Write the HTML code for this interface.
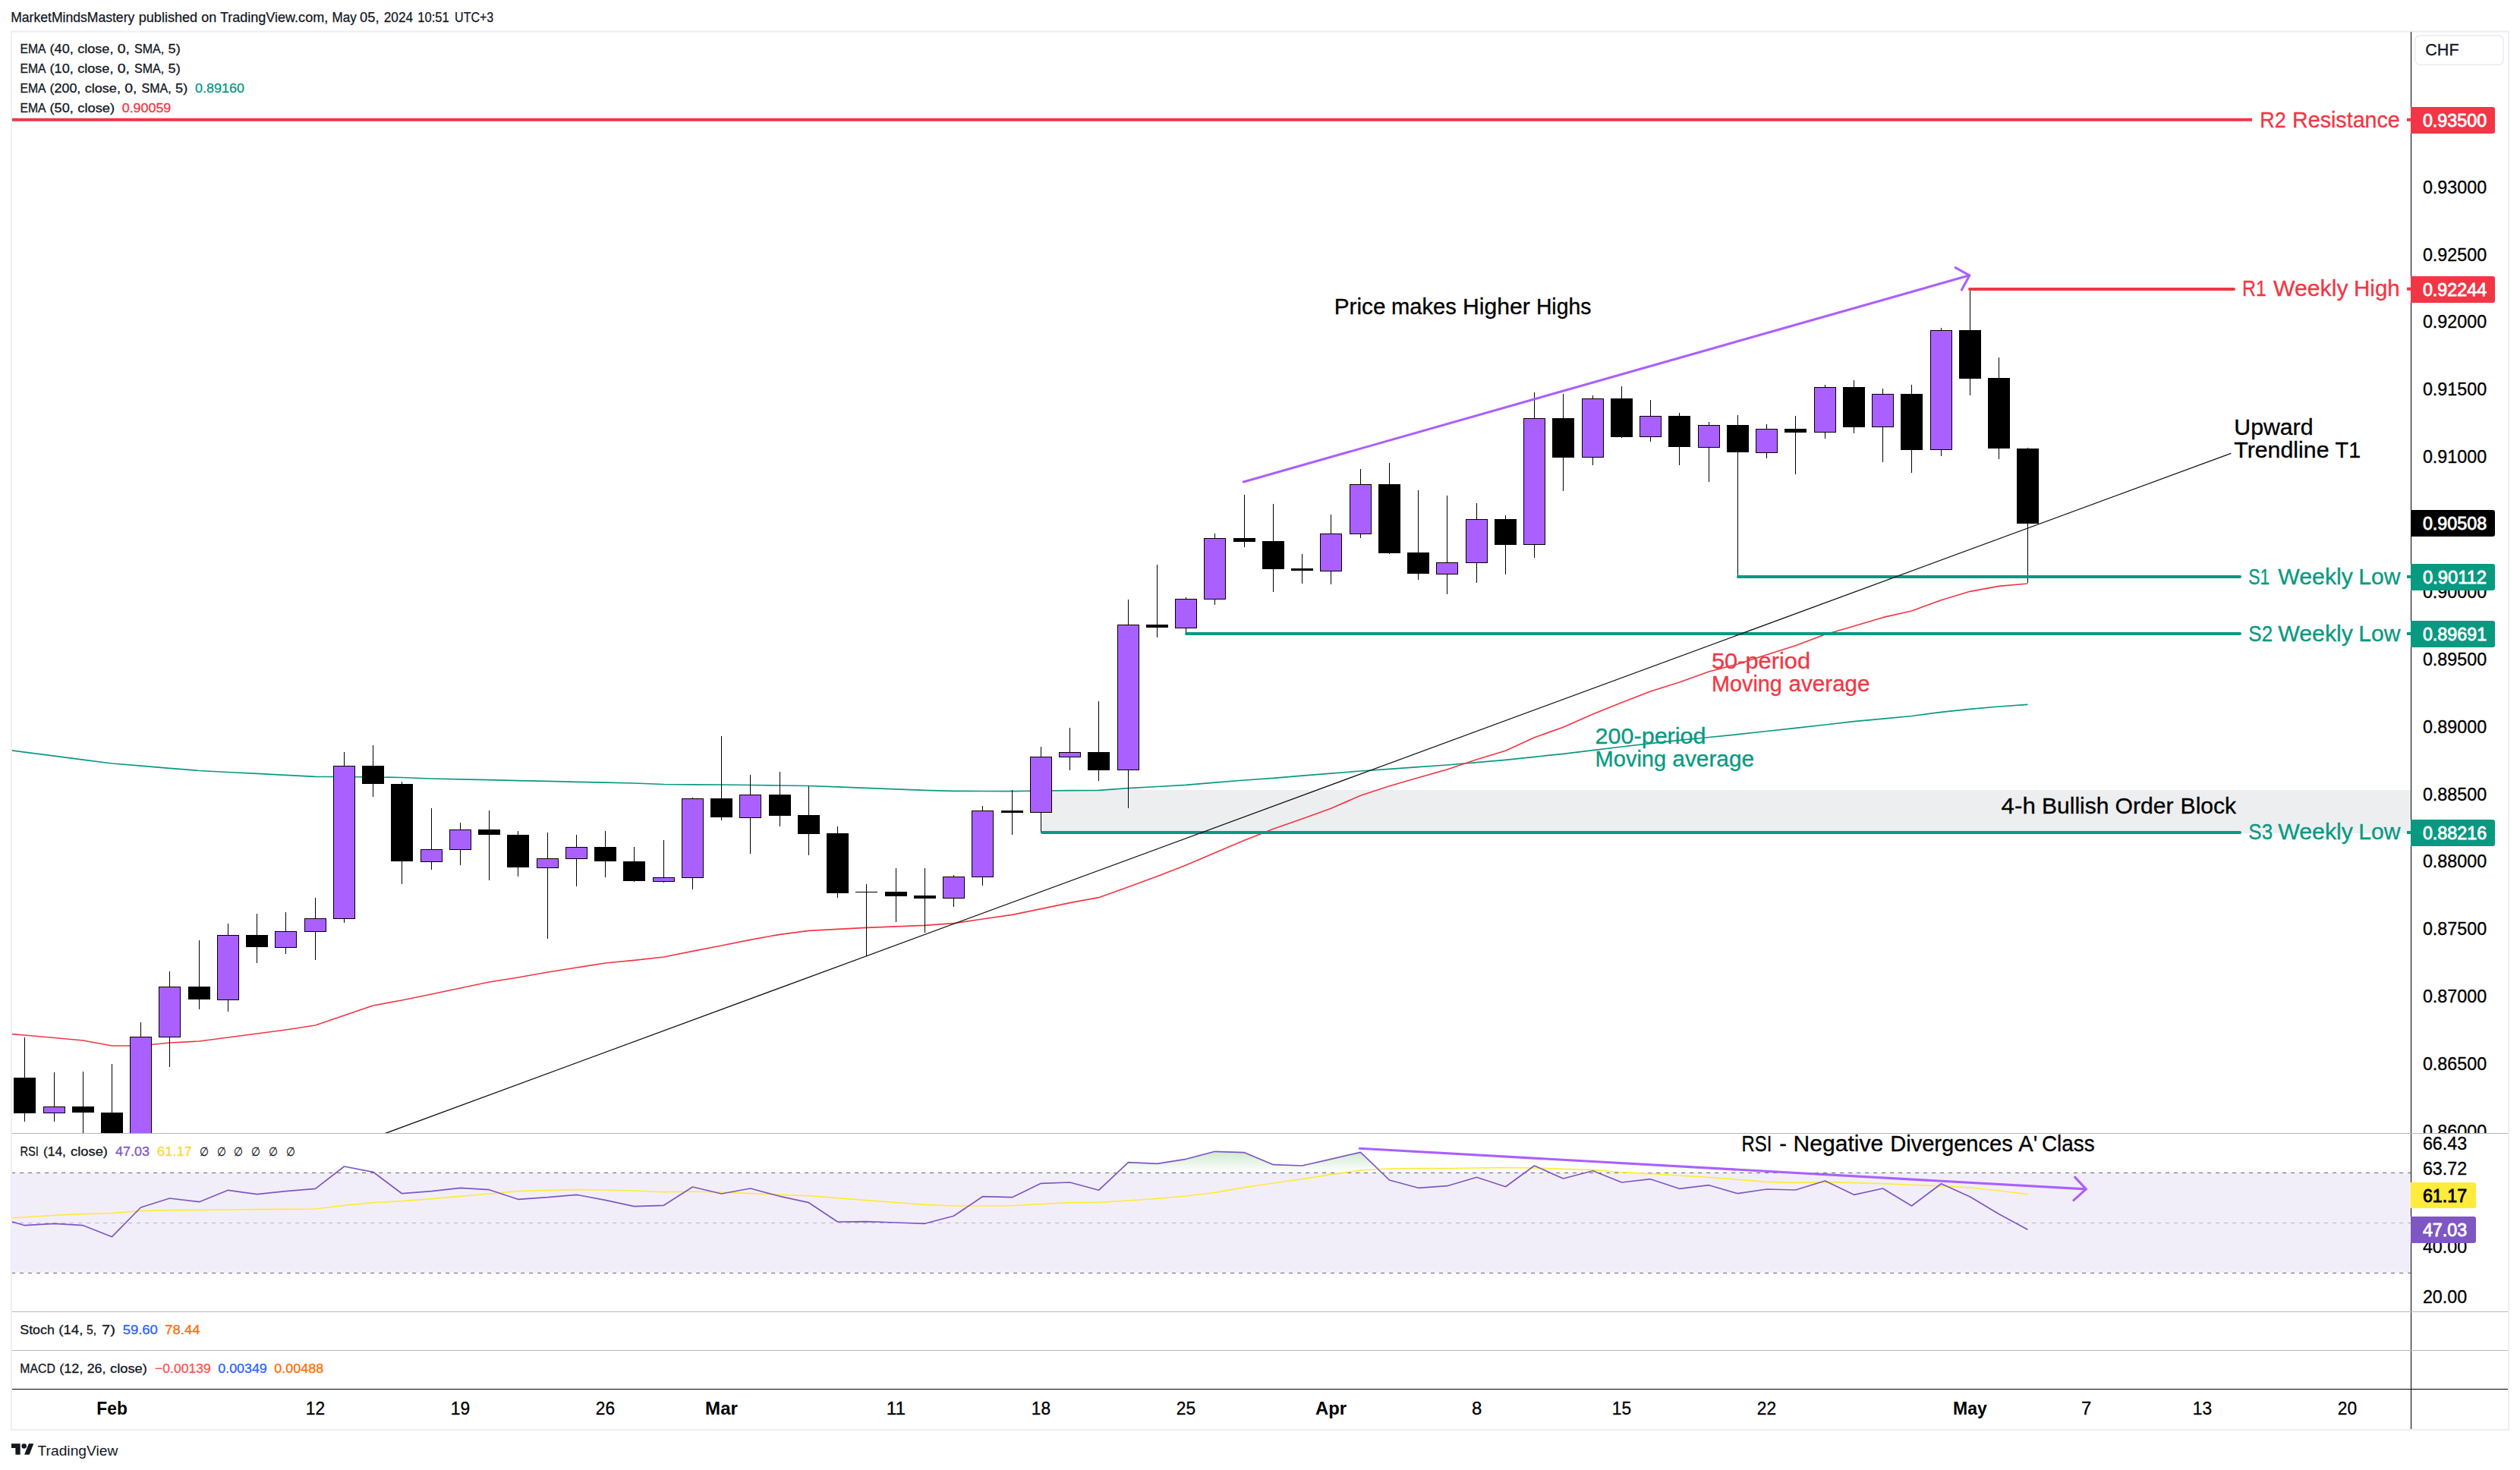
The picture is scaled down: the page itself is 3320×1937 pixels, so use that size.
<!DOCTYPE html>
<html lang="en"><head><meta charset="utf-8"><title>USDCHF chart</title>
<style>html,body{margin:0;padding:0;background:#fff}body{width:3320px;height:1937px;overflow:hidden}</style>
</head><body>
<svg width="3320" height="1937" viewBox="0 0 3320 1937" font-family='"Liberation Sans", sans-serif' style="display:block">
<defs>
<clipPath id="p1"><rect x="16" y="42" width="3160" height="1451.3"/></clipPath>
<clipPath id="p1a"><rect x="3176" y="42" width="128" height="1451.3"/></clipPath>
<clipPath id="p2"><rect x="16" y="1493.3" width="3160" height="234.7"/></clipPath>
<clipPath id="ob"><rect x="16" y="42" width="3160" height="1503.3"/></clipPath>
<linearGradient id="gg" gradientUnits="userSpaceOnUse" x1="0" y1="1493" x2="0" y2="1545"><stop offset="0" stop-color="#4caf50" stop-opacity="0.5"/><stop offset="1" stop-color="#4caf50" stop-opacity="0"/></linearGradient>
</defs>
<rect width="3320" height="1937" fill="#fff"/>
<text x="14.2" y="29.0" font-size="17.8" fill="#131722" stroke="#131722" stroke-width="0.25" textLength="163.1" lengthAdjust="spacingAndGlyphs">MarketMindsMastery</text>
<text x="182.7" y="29.0" font-size="17.8" fill="#131722" stroke="#131722" stroke-width="0.25" textLength="77.5" lengthAdjust="spacingAndGlyphs">published</text>
<text x="265.2" y="29.0" font-size="17.8" fill="#131722" stroke="#131722" stroke-width="0.25" textLength="20.0" lengthAdjust="spacingAndGlyphs">on</text>
<text x="289.9" y="29.0" font-size="17.8" fill="#131722" stroke="#131722" stroke-width="0.25" textLength="142.3" lengthAdjust="spacingAndGlyphs">TradingView.com,</text>
<text x="437.5" y="29.0" font-size="17.8" fill="#131722" stroke="#131722" stroke-width="0.25" textLength="32.2" lengthAdjust="spacingAndGlyphs">May</text>
<text x="474.1" y="29.0" font-size="17.8" fill="#131722" stroke="#131722" stroke-width="0.25" textLength="25.4" lengthAdjust="spacingAndGlyphs">05,</text>
<text x="505.7" y="29.0" font-size="17.8" fill="#131722" stroke="#131722" stroke-width="0.25" textLength="38.4" lengthAdjust="spacingAndGlyphs">2024</text>
<text x="550.3" y="29.0" font-size="17.8" fill="#131722" stroke="#131722" stroke-width="0.25" textLength="41.4" lengthAdjust="spacingAndGlyphs">10:51</text>
<text x="599.1" y="29.0" font-size="17.8" fill="#131722" stroke="#131722" stroke-width="0.25" textLength="51.2" lengthAdjust="spacingAndGlyphs">UTC+3</text>
<rect x="15" y="41.5" width="3290" height="1842.5" fill="none" stroke="#edeef3" stroke-width="2"/>
<g clip-path="url(#p1)">
<rect x="1371" y="1041" width="1805" height="57" fill="#edeef0"/>
<polyline points="-5.8,986.0 32.5,991.2 71.5,996.1 109.5,1001.1 147.5,1006.0 185.5,1009.2 223.5,1012.3 262.5,1015.5 300.5,1017.5 338.5,1019.4 376.5,1021.3 415.5,1023.3 453.5,1023.5 491.5,1024.0 529.5,1024.5 568.5,1026.0 606.5,1026.9 644.5,1027.7 682.5,1028.6 721.5,1029.4 759.5,1030.3 797.5,1031.1 835.5,1032.0 874.5,1033.5 912.5,1033.8 950.5,1034.0 988.5,1034.5 1027.5,1035.0 1065.5,1035.5 1103.5,1036.9 1141.5,1038.3 1180.5,1039.8 1218.5,1041.3 1256.5,1042.3 1294.5,1042.5 1333.5,1042.7 1371.5,1042.0 1409.5,1041.7 1447.5,1041.3 1486.5,1038.7 1524.5,1036.5 1562.5,1034.3 1600.5,1031.2 1639.5,1028.0 1677.5,1025.3 1715.5,1022.2 1753.5,1019.1 1792.5,1016.0 1830.5,1013.3 1868.5,1010.7 1906.5,1008.0 1945.5,1004.6 1983.5,1001.3 2021.5,997.3 2059.5,993.3 2098.5,988.6 2136.5,984.0 2174.5,979.6 2212.5,975.3 2251.5,971.5 2289.5,967.7 2327.5,963.5 2365.5,959.3 2404.5,955.0 2442.5,950.7 2480.5,947.1 2518.5,943.5 2557.5,938.3 2595.5,934.3 2633.5,931.0 2671.5,928.3" fill="none" stroke="#089981" stroke-width="1.7" stroke-linejoin="round"/>
<polyline points="-5.8,1361.0 32.5,1364.0 71.5,1367.5 109.5,1371.0 147.5,1378.0 185.5,1378.0 223.5,1374.0 262.5,1372.0 300.5,1367.0 338.5,1362.0 376.5,1357.0 415.5,1351.0 453.5,1338.0 491.5,1325.0 529.5,1318.0 568.5,1310.0 606.5,1302.0 644.5,1294.0 682.5,1288.0 721.5,1281.0 759.5,1275.0 797.5,1269.0 835.5,1265.3 874.5,1261.0 912.5,1253.3 950.5,1246.0 988.5,1238.3 1027.5,1231.3 1065.5,1226.3 1103.5,1224.3 1141.5,1222.3 1180.5,1220.8 1218.5,1219.3 1256.5,1216.7 1294.5,1211.0 1333.5,1205.3 1371.5,1197.7 1409.5,1189.7 1447.5,1182.7 1486.5,1168.7 1524.5,1154.7 1562.5,1140.0 1600.5,1123.7 1639.5,1107.3 1677.5,1092.3 1715.5,1079.0 1753.5,1065.3 1792.5,1048.3 1830.5,1035.7 1868.5,1024.7 1906.5,1014.0 1945.5,1000.7 1983.5,989.3 2021.5,971.7 2059.5,958.3 2098.5,941.0 2136.5,925.7 2174.5,911.0 2212.5,899.0 2251.5,885.0 2289.5,875.0 2327.5,862.7 2365.5,850.7 2404.5,836.0 2442.5,825.0 2480.5,813.7 2518.5,805.0 2557.5,790.7 2595.5,779.3 2633.5,772.3 2671.5,769.0" fill="none" stroke="#f23645" stroke-width="1.7" stroke-linejoin="round"/>
<rect x="32" y="1367" width="1" height="111" fill="#000"/>
<rect x="18.5" y="1420.5" width="28" height="46.0" fill="#000" stroke="#000" stroke-width="1"/>
<rect x="71" y="1413" width="1" height="65" fill="#000"/>
<rect x="57.5" y="1458.5" width="28" height="8.0" fill="#aa60ff" stroke="#000" stroke-width="1"/>
<rect x="109" y="1412" width="1" height="98" fill="#000"/>
<rect x="95.5" y="1458.5" width="28" height="7.0" fill="#000" stroke="#000" stroke-width="1"/>
<rect x="147" y="1402" width="1" height="108" fill="#000"/>
<rect x="133.5" y="1466.5" width="28" height="43.0" fill="#000" stroke="#000" stroke-width="1"/>
<rect x="185" y="1347" width="1" height="163" fill="#000"/>
<rect x="171.5" y="1366.5" width="28" height="144.0" fill="#aa60ff" stroke="#000" stroke-width="1"/>
<rect x="223" y="1280" width="1" height="126" fill="#000"/>
<rect x="209.5" y="1300.5" width="28" height="66.0" fill="#aa60ff" stroke="#000" stroke-width="1"/>
<rect x="262" y="1239" width="1" height="91" fill="#000"/>
<rect x="248.5" y="1300.5" width="28" height="16.0" fill="#000" stroke="#000" stroke-width="1"/>
<rect x="300" y="1217" width="1" height="116" fill="#000"/>
<rect x="286.5" y="1232.5" width="28" height="85.0" fill="#aa60ff" stroke="#000" stroke-width="1"/>
<rect x="338" y="1204" width="1" height="65" fill="#000"/>
<rect x="324.5" y="1232.5" width="28" height="15.0" fill="#000" stroke="#000" stroke-width="1"/>
<rect x="376" y="1202" width="1" height="55" fill="#000"/>
<rect x="362.5" y="1227.5" width="28" height="21.0" fill="#aa60ff" stroke="#000" stroke-width="1"/>
<rect x="415" y="1183" width="1" height="82" fill="#000"/>
<rect x="401.5" y="1210.5" width="28" height="17.0" fill="#aa60ff" stroke="#000" stroke-width="1"/>
<rect x="453" y="991" width="1" height="225" fill="#000"/>
<rect x="439.5" y="1009.5" width="28" height="201.0" fill="#aa60ff" stroke="#000" stroke-width="1"/>
<rect x="491" y="982" width="1" height="68" fill="#000"/>
<rect x="477.5" y="1009.5" width="28" height="23.0" fill="#000" stroke="#000" stroke-width="1"/>
<rect x="529" y="1030" width="1" height="135" fill="#000"/>
<rect x="515.5" y="1033.5" width="28" height="101.0" fill="#000" stroke="#000" stroke-width="1"/>
<rect x="568" y="1065" width="1" height="81" fill="#000"/>
<rect x="554.5" y="1119.5" width="28" height="16.0" fill="#aa60ff" stroke="#000" stroke-width="1"/>
<rect x="606" y="1084" width="1" height="56" fill="#000"/>
<rect x="592.5" y="1093.5" width="28" height="26.0" fill="#aa60ff" stroke="#000" stroke-width="1"/>
<rect x="644" y="1068" width="1" height="92" fill="#000"/>
<rect x="630.5" y="1093.5" width="28" height="6.0" fill="#000" stroke="#000" stroke-width="1"/>
<rect x="682" y="1095" width="1" height="60" fill="#000"/>
<rect x="668.5" y="1100.5" width="28" height="42.0" fill="#000" stroke="#000" stroke-width="1"/>
<rect x="721" y="1097" width="1" height="140" fill="#000"/>
<rect x="707.5" y="1131.5" width="28" height="12.0" fill="#aa60ff" stroke="#000" stroke-width="1"/>
<rect x="759" y="1100" width="1" height="68" fill="#000"/>
<rect x="745.5" y="1116.5" width="28" height="15.0" fill="#aa60ff" stroke="#000" stroke-width="1"/>
<rect x="797" y="1095" width="1" height="61" fill="#000"/>
<rect x="783.5" y="1116.5" width="28" height="18.0" fill="#000" stroke="#000" stroke-width="1"/>
<rect x="835" y="1116" width="1" height="46" fill="#000"/>
<rect x="821.5" y="1135.5" width="28" height="25.0" fill="#000" stroke="#000" stroke-width="1"/>
<rect x="874" y="1107" width="1" height="56" fill="#000"/>
<rect x="860.5" y="1156.5" width="28" height="5.0" fill="#aa60ff" stroke="#000" stroke-width="1"/>
<rect x="912" y="1051" width="1" height="121" fill="#000"/>
<rect x="898.5" y="1052.5" width="28" height="104.0" fill="#aa60ff" stroke="#000" stroke-width="1"/>
<rect x="950" y="970" width="1" height="111" fill="#000"/>
<rect x="936.5" y="1052.5" width="28" height="24.0" fill="#000" stroke="#000" stroke-width="1"/>
<rect x="988" y="1021" width="1" height="104" fill="#000"/>
<rect x="974.5" y="1047.5" width="28" height="30.0" fill="#aa60ff" stroke="#000" stroke-width="1"/>
<rect x="1027" y="1017" width="1" height="72" fill="#000"/>
<rect x="1013.5" y="1047.5" width="28" height="27.0" fill="#000" stroke="#000" stroke-width="1"/>
<rect x="1065" y="1036" width="1" height="91" fill="#000"/>
<rect x="1051.5" y="1074.5" width="28" height="24.0" fill="#000" stroke="#000" stroke-width="1"/>
<rect x="1103" y="1089" width="1" height="94" fill="#000"/>
<rect x="1089.5" y="1098.5" width="28" height="78.0" fill="#000" stroke="#000" stroke-width="1"/>
<rect x="1141" y="1165" width="1" height="95" fill="#000"/>
<rect x="1127" y="1175" width="29" height="1" fill="#000"/>
<rect x="1180" y="1144" width="1" height="71" fill="#000"/>
<rect x="1166.5" y="1175.5" width="28" height="5.0" fill="#000" stroke="#000" stroke-width="1"/>
<rect x="1218" y="1144" width="1" height="85" fill="#000"/>
<rect x="1204.5" y="1180.5" width="28" height="3.0" fill="#000" stroke="#000" stroke-width="1"/>
<rect x="1256" y="1153" width="1" height="42" fill="#000"/>
<rect x="1242.5" y="1155.5" width="28" height="28.0" fill="#aa60ff" stroke="#000" stroke-width="1"/>
<rect x="1294" y="1062" width="1" height="105" fill="#000"/>
<rect x="1280.5" y="1068.5" width="28" height="87.0" fill="#aa60ff" stroke="#000" stroke-width="1"/>
<rect x="1333" y="1041" width="1" height="59" fill="#000"/>
<rect x="1319.5" y="1068.5" width="28" height="2.0" fill="#000" stroke="#000" stroke-width="1"/>
<rect x="1371" y="984" width="1" height="113" fill="#000"/>
<rect x="1357.5" y="997.5" width="28" height="73.0" fill="#aa60ff" stroke="#000" stroke-width="1"/>
<rect x="1409" y="959" width="1" height="56" fill="#000"/>
<rect x="1395.5" y="991.5" width="28" height="6.0" fill="#aa60ff" stroke="#000" stroke-width="1"/>
<rect x="1447" y="924" width="1" height="105" fill="#000"/>
<rect x="1433.5" y="991.5" width="28" height="23.0" fill="#000" stroke="#000" stroke-width="1"/>
<rect x="1486" y="790" width="1" height="275" fill="#000"/>
<rect x="1472.5" y="823.5" width="28" height="191.0" fill="#aa60ff" stroke="#000" stroke-width="1"/>
<rect x="1524" y="744" width="1" height="96" fill="#000"/>
<rect x="1510.5" y="823.5" width="28" height="3.0" fill="#000" stroke="#000" stroke-width="1"/>
<rect x="1562" y="787" width="1" height="48" fill="#000"/>
<rect x="1548.5" y="789.5" width="28" height="38.0" fill="#aa60ff" stroke="#000" stroke-width="1"/>
<rect x="1600" y="703" width="1" height="94" fill="#000"/>
<rect x="1586.5" y="709.5" width="28" height="80.0" fill="#aa60ff" stroke="#000" stroke-width="1"/>
<rect x="1639" y="652" width="1" height="69" fill="#000"/>
<rect x="1625.5" y="709.5" width="28" height="4.0" fill="#000" stroke="#000" stroke-width="1"/>
<rect x="1677" y="664" width="1" height="116" fill="#000"/>
<rect x="1663.5" y="713.5" width="28" height="36.0" fill="#000" stroke="#000" stroke-width="1"/>
<rect x="1715" y="730" width="1" height="39" fill="#000"/>
<rect x="1701.5" y="749.5" width="28" height="2.0" fill="#000" stroke="#000" stroke-width="1"/>
<rect x="1753" y="678" width="1" height="92" fill="#000"/>
<rect x="1739.5" y="703.5" width="28" height="49.0" fill="#aa60ff" stroke="#000" stroke-width="1"/>
<rect x="1792" y="618" width="1" height="91" fill="#000"/>
<rect x="1778.5" y="638.5" width="28" height="65.0" fill="#aa60ff" stroke="#000" stroke-width="1"/>
<rect x="1830" y="610" width="1" height="120" fill="#000"/>
<rect x="1816.5" y="638.5" width="28" height="90.0" fill="#000" stroke="#000" stroke-width="1"/>
<rect x="1868" y="646" width="1" height="118" fill="#000"/>
<rect x="1854.5" y="728.5" width="28" height="27.0" fill="#000" stroke="#000" stroke-width="1"/>
<rect x="1906" y="653" width="1" height="130" fill="#000"/>
<rect x="1892.5" y="741.5" width="28" height="15.0" fill="#aa60ff" stroke="#000" stroke-width="1"/>
<rect x="1945" y="663" width="1" height="105" fill="#000"/>
<rect x="1931.5" y="684.5" width="28" height="57.0" fill="#aa60ff" stroke="#000" stroke-width="1"/>
<rect x="1983" y="679" width="1" height="78" fill="#000"/>
<rect x="1969.5" y="684.5" width="28" height="33.0" fill="#000" stroke="#000" stroke-width="1"/>
<rect x="2021" y="517" width="1" height="218" fill="#000"/>
<rect x="2007.5" y="551.5" width="28" height="166.0" fill="#aa60ff" stroke="#000" stroke-width="1"/>
<rect x="2059" y="519" width="1" height="128" fill="#000"/>
<rect x="2045.5" y="551.5" width="28" height="51.0" fill="#000" stroke="#000" stroke-width="1"/>
<rect x="2098" y="521" width="1" height="92" fill="#000"/>
<rect x="2084.5" y="525.5" width="28" height="77.0" fill="#aa60ff" stroke="#000" stroke-width="1"/>
<rect x="2136" y="509" width="1" height="68" fill="#000"/>
<rect x="2122.5" y="525.5" width="28" height="50.0" fill="#000" stroke="#000" stroke-width="1"/>
<rect x="2174" y="527" width="1" height="55" fill="#000"/>
<rect x="2160.5" y="548.5" width="28" height="27.0" fill="#aa60ff" stroke="#000" stroke-width="1"/>
<rect x="2212" y="544" width="1" height="69" fill="#000"/>
<rect x="2198.5" y="548.5" width="28" height="40.0" fill="#000" stroke="#000" stroke-width="1"/>
<rect x="2251" y="556" width="1" height="79" fill="#000"/>
<rect x="2237.5" y="560.5" width="28" height="29.0" fill="#aa60ff" stroke="#000" stroke-width="1"/>
<rect x="2289" y="547" width="1" height="213" fill="#000"/>
<rect x="2275.5" y="560.5" width="28" height="35.0" fill="#000" stroke="#000" stroke-width="1"/>
<rect x="2327" y="559" width="1" height="45" fill="#000"/>
<rect x="2313.5" y="565.5" width="28" height="31.0" fill="#aa60ff" stroke="#000" stroke-width="1"/>
<rect x="2365" y="548" width="1" height="77" fill="#000"/>
<rect x="2351.5" y="565.5" width="28" height="4.0" fill="#000" stroke="#000" stroke-width="1"/>
<rect x="2404" y="507" width="1" height="71" fill="#000"/>
<rect x="2390.5" y="510.5" width="28" height="59.0" fill="#aa60ff" stroke="#000" stroke-width="1"/>
<rect x="2442" y="501" width="1" height="70" fill="#000"/>
<rect x="2428.5" y="510.5" width="28" height="52.0" fill="#000" stroke="#000" stroke-width="1"/>
<rect x="2480" y="512" width="1" height="97" fill="#000"/>
<rect x="2466.5" y="519.5" width="28" height="43.0" fill="#aa60ff" stroke="#000" stroke-width="1"/>
<rect x="2518" y="507" width="1" height="116" fill="#000"/>
<rect x="2504.5" y="519.5" width="28" height="73.0" fill="#000" stroke="#000" stroke-width="1"/>
<rect x="2557" y="432" width="1" height="169" fill="#000"/>
<rect x="2543.5" y="435.5" width="28" height="157.0" fill="#aa60ff" stroke="#000" stroke-width="1"/>
<rect x="2595" y="381" width="1" height="140" fill="#000"/>
<rect x="2581.5" y="435.5" width="28" height="63.0" fill="#000" stroke="#000" stroke-width="1"/>
<rect x="2633" y="471" width="1" height="134" fill="#000"/>
<rect x="2619.5" y="498.5" width="28" height="92.0" fill="#000" stroke="#000" stroke-width="1"/>
<rect x="2671" y="590" width="1" height="178" fill="#000"/>
<rect x="2657.5" y="591.5" width="28" height="98.0" fill="#000" stroke="#000" stroke-width="1"/>
<line x1="16" y1="157.8" x2="2967" y2="157.8" stroke="#f23645" stroke-width="4"/>
<line x1="2595" y1="381" x2="2943" y2="381" stroke="#f23645" stroke-width="4" stroke-linecap="round"/>
<line x1="2290" y1="760" x2="2951" y2="760" stroke="#089981" stroke-width="4" stroke-linecap="round"/>
<line x1="1563" y1="835" x2="2951" y2="835" stroke="#089981" stroke-width="4" stroke-linecap="round"/>
<line x1="1373" y1="1097" x2="2951" y2="1097" stroke="#089981" stroke-width="4" stroke-linecap="round"/>
<line x1="495" y1="1498" x2="2939.3" y2="597.3" stroke="#111" stroke-width="1.25"/>
<g fill="none" stroke="#aa60ff" stroke-width="3.1" stroke-linecap="round" stroke-linejoin="round">
<line x1="1638.3" y1="635" x2="2594.8" y2="362.8"/>
<polyline points="2576.1,352.6 2594.8,362.8 2584.4,382"/>
</g>
</g>
<text x="1757.8" y="413.8" font-size="28.9" fill="#000" stroke="#000" stroke-width="0.3" textLength="67.7" lengthAdjust="spacingAndGlyphs">Price</text>
<text x="1833.0" y="413.8" font-size="28.9" fill="#000" stroke="#000" stroke-width="0.3" textLength="85.8" lengthAdjust="spacingAndGlyphs">makes</text>
<text x="1927.0" y="413.8" font-size="28.9" fill="#000" stroke="#000" stroke-width="0.3" textLength="88.7" lengthAdjust="spacingAndGlyphs">Higher</text>
<text x="2023.9" y="413.8" font-size="28.9" fill="#000" stroke="#000" stroke-width="0.3" textLength="72.5" lengthAdjust="spacingAndGlyphs">Highs</text>
<text x="2943.3" y="573.1" font-size="28.9" fill="#000" stroke="#000" stroke-width="0.3" textLength="104.2" lengthAdjust="spacingAndGlyphs">Upward</text>
<text x="2943.3" y="603.1" font-size="28.9" fill="#000" stroke="#000" stroke-width="0.3" textLength="125.2" lengthAdjust="spacingAndGlyphs">Trendline</text>
<text x="3076.6" y="603.1" font-size="28.9" fill="#000" stroke="#000" stroke-width="0.3" textLength="33.5" lengthAdjust="spacingAndGlyphs">T1</text>
<text x="2255.0" y="880.7" font-size="28.9" fill="#f23645" stroke="#f23645" stroke-width="0.3" textLength="130.1" lengthAdjust="spacingAndGlyphs">50-period</text>
<text x="2255.0" y="910.7" font-size="28.9" fill="#f23645" stroke="#f23645" stroke-width="0.3" textLength="92.8" lengthAdjust="spacingAndGlyphs">Moving</text>
<text x="2356.6" y="910.7" font-size="28.9" fill="#f23645" stroke="#f23645" stroke-width="0.3" textLength="106.9" lengthAdjust="spacingAndGlyphs">average</text>
<text x="2101.6" y="979.6" font-size="28.9" fill="#089981" stroke="#089981" stroke-width="0.3" textLength="145.9" lengthAdjust="spacingAndGlyphs">200-period</text>
<text x="2101.6" y="1009.7" font-size="28.9" fill="#089981" stroke="#089981" stroke-width="0.3" textLength="93.5" lengthAdjust="spacingAndGlyphs">Moving</text>
<text x="2203.3" y="1009.7" font-size="28.9" fill="#089981" stroke="#089981" stroke-width="0.3" textLength="107.8" lengthAdjust="spacingAndGlyphs">average</text>
<text x="2636.6" y="1071.7" font-size="28.9" fill="#000" stroke="#000" stroke-width="0.3" textLength="45.2" lengthAdjust="spacingAndGlyphs">4-h</text>
<text x="2690.0" y="1071.7" font-size="28.9" fill="#000" stroke="#000" stroke-width="0.3" textLength="88.5" lengthAdjust="spacingAndGlyphs">Bullish</text>
<text x="2786.6" y="1071.7" font-size="28.9" fill="#000" stroke="#000" stroke-width="0.3" textLength="76.9" lengthAdjust="spacingAndGlyphs">Order</text>
<text x="2872.6" y="1071.7" font-size="28.9" fill="#000" stroke="#000" stroke-width="0.3" textLength="73.5" lengthAdjust="spacingAndGlyphs">Block</text>
<text x="2977.3" y="167.7" font-size="28.9" fill="#f23645" stroke="#f23645" stroke-width="0.3" textLength="34.5" lengthAdjust="spacingAndGlyphs">R2</text>
<text x="3020.0" y="167.7" font-size="28.9" fill="#f23645" stroke="#f23645" stroke-width="0.3" textLength="141.8" lengthAdjust="spacingAndGlyphs">Resistance</text>
<text x="2954.0" y="390.3" font-size="28.9" fill="#f23645" stroke="#f23645" stroke-width="0.3" textLength="31.8" lengthAdjust="spacingAndGlyphs">R1</text>
<text x="2995.0" y="390.3" font-size="28.9" fill="#f23645" stroke="#f23645" stroke-width="0.3" textLength="98.5" lengthAdjust="spacingAndGlyphs">Weekly</text>
<text x="3101.0" y="390.3" font-size="28.9" fill="#f23645" stroke="#f23645" stroke-width="0.3" textLength="60.8" lengthAdjust="spacingAndGlyphs">High</text>
<text x="2962.3" y="769.5" font-size="28.9" fill="#089981" stroke="#089981" stroke-width="0.3" textLength="28.1" lengthAdjust="spacingAndGlyphs">S1</text>
<text x="3001.2" y="769.5" font-size="28.9" fill="#089981" stroke="#089981" stroke-width="0.3" textLength="98.7" lengthAdjust="spacingAndGlyphs">Weekly</text>
<text x="3107.3" y="769.5" font-size="28.9" fill="#089981" stroke="#089981" stroke-width="0.3" textLength="55.2" lengthAdjust="spacingAndGlyphs">Low</text>
<text x="2962.3" y="844.5" font-size="28.9" fill="#089981" stroke="#089981" stroke-width="0.3" textLength="31.8" lengthAdjust="spacingAndGlyphs">S2</text>
<text x="3001.2" y="844.5" font-size="28.9" fill="#089981" stroke="#089981" stroke-width="0.3" textLength="98.7" lengthAdjust="spacingAndGlyphs">Weekly</text>
<text x="3107.3" y="844.5" font-size="28.9" fill="#089981" stroke="#089981" stroke-width="0.3" textLength="55.2" lengthAdjust="spacingAndGlyphs">Low</text>
<text x="2962.3" y="1105.5" font-size="28.9" fill="#089981" stroke="#089981" stroke-width="0.3" textLength="31.8" lengthAdjust="spacingAndGlyphs">S3</text>
<text x="3001.2" y="1105.5" font-size="28.9" fill="#089981" stroke="#089981" stroke-width="0.3" textLength="98.7" lengthAdjust="spacingAndGlyphs">Weekly</text>
<text x="3107.3" y="1105.5" font-size="28.9" fill="#089981" stroke="#089981" stroke-width="0.3" textLength="55.2" lengthAdjust="spacingAndGlyphs">Low</text>
<text x="26.5" y="69.7" font-size="17.3" fill="#131722" stroke="#131722" stroke-width="0.3" textLength="34.1" lengthAdjust="spacingAndGlyphs">EMA</text>
<text x="65.6" y="69.7" font-size="17.3" fill="#131722" stroke="#131722" stroke-width="0.3" textLength="31.2" lengthAdjust="spacingAndGlyphs">(40,</text>
<text x="102.3" y="69.7" font-size="17.3" fill="#131722" stroke="#131722" stroke-width="0.3" textLength="47.1" lengthAdjust="spacingAndGlyphs">close,</text>
<text x="154.8" y="69.7" font-size="17.3" fill="#131722" stroke="#131722" stroke-width="0.3" textLength="16.2" lengthAdjust="spacingAndGlyphs">0,</text>
<text x="177.0" y="69.7" font-size="17.3" fill="#131722" stroke="#131722" stroke-width="0.3" textLength="39.1" lengthAdjust="spacingAndGlyphs">SMA,</text>
<text x="221.5" y="69.7" font-size="17.3" fill="#131722" stroke="#131722" stroke-width="0.3" textLength="16.2" lengthAdjust="spacingAndGlyphs">5)</text>
<text x="26.5" y="95.8" font-size="17.3" fill="#131722" stroke="#131722" stroke-width="0.3" textLength="34.1" lengthAdjust="spacingAndGlyphs">EMA</text>
<text x="65.6" y="95.8" font-size="17.3" fill="#131722" stroke="#131722" stroke-width="0.3" textLength="31.2" lengthAdjust="spacingAndGlyphs">(10,</text>
<text x="102.3" y="95.8" font-size="17.3" fill="#131722" stroke="#131722" stroke-width="0.3" textLength="47.1" lengthAdjust="spacingAndGlyphs">close,</text>
<text x="154.8" y="95.8" font-size="17.3" fill="#131722" stroke="#131722" stroke-width="0.3" textLength="16.2" lengthAdjust="spacingAndGlyphs">0,</text>
<text x="177.0" y="95.8" font-size="17.3" fill="#131722" stroke="#131722" stroke-width="0.3" textLength="39.1" lengthAdjust="spacingAndGlyphs">SMA,</text>
<text x="221.5" y="95.8" font-size="17.3" fill="#131722" stroke="#131722" stroke-width="0.3" textLength="16.2" lengthAdjust="spacingAndGlyphs">5)</text>
<text x="26.5" y="122.2" font-size="17.3" fill="#131722" stroke="#131722" stroke-width="0.3" textLength="34.1" lengthAdjust="spacingAndGlyphs">EMA</text>
<text x="65.6" y="122.2" font-size="17.3" fill="#131722" stroke="#131722" stroke-width="0.3" textLength="40.7" lengthAdjust="spacingAndGlyphs">(200,</text>
<text x="111.8" y="122.2" font-size="17.3" fill="#131722" stroke="#131722" stroke-width="0.3" textLength="47.1" lengthAdjust="spacingAndGlyphs">close,</text>
<text x="164.3" y="122.2" font-size="17.3" fill="#131722" stroke="#131722" stroke-width="0.3" textLength="16.2" lengthAdjust="spacingAndGlyphs">0,</text>
<text x="186.5" y="122.2" font-size="17.3" fill="#131722" stroke="#131722" stroke-width="0.3" textLength="39.1" lengthAdjust="spacingAndGlyphs">SMA,</text>
<text x="231.0" y="122.2" font-size="17.3" fill="#131722" stroke="#131722" stroke-width="0.3" textLength="16.2" lengthAdjust="spacingAndGlyphs">5)</text>
<text x="257.0" y="122.2" font-size="17.3" fill="#089981" stroke="#089981" stroke-width="0.3" textLength="64.9" lengthAdjust="spacingAndGlyphs">0.89160</text>
<text x="26.5" y="148.0" font-size="17.3" fill="#131722" stroke="#131722" stroke-width="0.3" textLength="34.1" lengthAdjust="spacingAndGlyphs">EMA</text>
<text x="65.6" y="148.0" font-size="17.3" fill="#131722" stroke="#131722" stroke-width="0.3" textLength="31.2" lengthAdjust="spacingAndGlyphs">(50,</text>
<text x="102.3" y="148.0" font-size="17.3" fill="#131722" stroke="#131722" stroke-width="0.3" textLength="48.7" lengthAdjust="spacingAndGlyphs">close)</text>
<text x="160.7" y="148.0" font-size="17.3" fill="#f23645" stroke="#f23645" stroke-width="0.3" textLength="64.6" lengthAdjust="spacingAndGlyphs">0.90059</text>
<line x1="3176.5" y1="42" x2="3176.5" y2="1883" stroke="#000" stroke-width="1"/>
<g clip-path="url(#p1a)">
<text x="3191.9" y="254.7" font-size="23" fill="#000" stroke="#000" stroke-width="0.3" textLength="84.2" lengthAdjust="spacingAndGlyphs">0.93000</text>
<text x="3191.9" y="343.6" font-size="23" fill="#000" stroke="#000" stroke-width="0.3" textLength="84.2" lengthAdjust="spacingAndGlyphs">0.92500</text>
<text x="3191.9" y="432.4" font-size="23" fill="#000" stroke="#000" stroke-width="0.3" textLength="84.2" lengthAdjust="spacingAndGlyphs">0.92000</text>
<text x="3191.9" y="521.3" font-size="23" fill="#000" stroke="#000" stroke-width="0.3" textLength="84.2" lengthAdjust="spacingAndGlyphs">0.91500</text>
<text x="3191.9" y="610.2" font-size="23" fill="#000" stroke="#000" stroke-width="0.3" textLength="84.2" lengthAdjust="spacingAndGlyphs">0.91000</text>
<text x="3191.9" y="787.9" font-size="23" fill="#000" stroke="#000" stroke-width="0.3" textLength="84.2" lengthAdjust="spacingAndGlyphs">0.90000</text>
<text x="3191.9" y="876.8" font-size="23" fill="#000" stroke="#000" stroke-width="0.3" textLength="84.2" lengthAdjust="spacingAndGlyphs">0.89500</text>
<text x="3191.9" y="965.7" font-size="23" fill="#000" stroke="#000" stroke-width="0.3" textLength="84.2" lengthAdjust="spacingAndGlyphs">0.89000</text>
<text x="3191.9" y="1054.5" font-size="23" fill="#000" stroke="#000" stroke-width="0.3" textLength="84.2" lengthAdjust="spacingAndGlyphs">0.88500</text>
<text x="3191.9" y="1143.4" font-size="23" fill="#000" stroke="#000" stroke-width="0.3" textLength="84.2" lengthAdjust="spacingAndGlyphs">0.88000</text>
<text x="3191.9" y="1232.3" font-size="23" fill="#000" stroke="#000" stroke-width="0.3" textLength="84.2" lengthAdjust="spacingAndGlyphs">0.87500</text>
<text x="3191.9" y="1321.1" font-size="23" fill="#000" stroke="#000" stroke-width="0.3" textLength="84.2" lengthAdjust="spacingAndGlyphs">0.87000</text>
<text x="3191.9" y="1410.0" font-size="23" fill="#000" stroke="#000" stroke-width="0.3" textLength="84.2" lengthAdjust="spacingAndGlyphs">0.86500</text>
<text x="3191.9" y="1498.9" font-size="23" fill="#000" stroke="#000" stroke-width="0.3" textLength="84.2" lengthAdjust="spacingAndGlyphs">0.86000</text>
</g>
<rect x="3171" y="155.8" width="5" height="4" fill="#f23645"/>
<path d="M3176 141 H3284 Q3287 141 3287 144 V173 Q3287 176 3284 176 H3176 Z" fill="#f23645"/>
<text x="3191.9" y="166.8" font-size="23" fill="#fff" stroke="#fff" stroke-width="0.8" textLength="84.2" lengthAdjust="spacingAndGlyphs">0.93500</text>
<rect x="3171" y="378.7" width="5" height="4" fill="#f23645"/>
<path d="M3176 364 H3284 Q3287 364 3287 367 V396 Q3287 399 3284 399 H3176 Z" fill="#f23645"/>
<text x="3191.9" y="389.8" font-size="23" fill="#fff" stroke="#fff" stroke-width="0.8" textLength="84.2" lengthAdjust="spacingAndGlyphs">0.92244</text>
<path d="M3176 672 H3284 Q3287 672 3287 675 V704 Q3287 707 3284 707 H3176 Z" fill="#000"/>
<text x="3191.9" y="697.8" font-size="23" fill="#fff" stroke="#fff" stroke-width="0.8" textLength="84.2" lengthAdjust="spacingAndGlyphs">0.90508</text>
<rect x="3171" y="758" width="5" height="4" fill="#089981"/>
<path d="M3176 743 H3284 Q3287 743 3287 746 V775 Q3287 778 3284 778 H3176 Z" fill="#089981"/>
<text x="3191.9" y="768.8" font-size="23" fill="#fff" stroke="#fff" stroke-width="0.8" textLength="84.2" lengthAdjust="spacingAndGlyphs">0.90112</text>
<rect x="3171" y="833" width="5" height="4" fill="#089981"/>
<path d="M3176 818 H3284 Q3287 818 3287 821 V850 Q3287 853 3284 853 H3176 Z" fill="#089981"/>
<text x="3191.9" y="843.8" font-size="23" fill="#fff" stroke="#fff" stroke-width="0.8" textLength="84.2" lengthAdjust="spacingAndGlyphs">0.89691</text>
<rect x="3171" y="1095" width="5" height="4" fill="#089981"/>
<path d="M3176 1080 H3284 Q3287 1080 3287 1083 V1112 Q3287 1115 3284 1115 H3176 Z" fill="#089981"/>
<text x="3191.9" y="1105.8" font-size="23" fill="#fff" stroke="#fff" stroke-width="0.8" textLength="84.2" lengthAdjust="spacingAndGlyphs">0.88216</text>
<rect x="3182" y="46.8" width="116" height="38.5" rx="6" fill="#fff" stroke="#e9ebf2" stroke-width="1.5"/>
<text x="3195.3" y="73.3" font-size="22.8" fill="#131722" stroke="#131722" stroke-width="0.3" textLength="44.3" lengthAdjust="spacingAndGlyphs">CHF</text>
<g clip-path="url(#p2)">
<rect x="16" y="1545.3" width="3160" height="131.7" fill="#f1eef9"/>
<polygon points="-5.8,1545.3 -5.8,1603.7 32.5,1614.7 71.5,1612.3 109.5,1614.7 147.5,1629.7 185.5,1591.0 223.5,1579.0 262.5,1583.7 300.5,1568.3 338.5,1573.7 376.5,1569.7 415.5,1566.3 453.5,1537.0 491.5,1544.3 529.5,1572.7 568.5,1569.7 606.5,1565.3 644.5,1567.7 682.5,1580.3 721.5,1577.7 759.5,1574.3 797.5,1581.3 835.5,1589.7 874.5,1588.3 912.5,1564.0 950.5,1573.0 988.5,1566.0 1027.5,1576.3 1065.5,1584.7 1103.5,1610.0 1141.5,1609.7 1180.5,1611.0 1218.5,1612.3 1256.5,1602.3 1294.5,1576.7 1333.5,1577.7 1371.5,1559.3 1409.5,1558.0 1447.5,1568.3 1486.5,1531.7 1524.5,1533.3 1562.5,1527.3 1600.5,1517.3 1639.5,1518.7 1677.5,1534.7 1715.5,1536.0 1753.5,1527.3 1792.5,1518.3 1830.5,1555.0 1868.5,1565.3 1906.5,1562.7 1945.5,1551.3 1983.5,1563.7 2021.5,1536.0 2059.5,1553.0 2098.5,1542.7 2136.5,1558.0 2174.5,1553.7 2212.5,1566.3 2251.5,1561.7 2289.5,1572.7 2327.5,1567.0 2365.5,1568.0 2404.5,1556.0 2442.5,1574.3 2480.5,1566.0 2518.5,1589.0 2557.5,1559.7 2595.5,1577.0 2633.5,1599.7 2671.5,1620.3 2671.5,1545.3" fill="url(#gg)" clip-path="url(#ob)"/>
<line x1="15.1" y1="1545.5" x2="3176" y2="1545.5" stroke="#63666f" stroke-width="1.2" stroke-dasharray="5 6"/>
<line x1="15.1" y1="1611.5" x2="3176" y2="1611.5" stroke="#b2b5be" stroke-width="1.2" stroke-dasharray="5 6"/>
<line x1="15.1" y1="1677.5" x2="3176" y2="1677.5" stroke="#63666f" stroke-width="1.2" stroke-dasharray="5 6"/>
<polyline points="-5.8,1606.0 32.5,1604.0 71.5,1601.3 109.5,1599.7 147.5,1598.7 185.5,1595.7 223.5,1594.7 262.5,1594.3 300.5,1594.0 338.5,1593.7 376.5,1593.3 415.5,1593.0 453.5,1588.3 491.5,1584.7 529.5,1582.7 568.5,1579.7 606.5,1576.3 644.5,1573.0 682.5,1569.7 721.5,1568.3 759.5,1567.7 797.5,1568.0 835.5,1569.0 874.5,1570.7 912.5,1570.0 950.5,1571.0 988.5,1572.7 1027.5,1574.3 1065.5,1575.7 1103.5,1578.7 1141.5,1581.7 1180.5,1584.7 1218.5,1587.3 1256.5,1589.0 1294.5,1589.0 1333.5,1588.7 1371.5,1586.7 1409.5,1584.7 1447.5,1584.3 1486.5,1582.0 1524.5,1579.3 1562.5,1576.0 1600.5,1571.3 1639.5,1564.7 1677.5,1559.0 1715.5,1553.7 1753.5,1547.7 1792.5,1542.0 1830.5,1540.0 1868.5,1539.7 1906.5,1539.7 1945.5,1539.0 1983.5,1538.7 2021.5,1539.0 2059.5,1540.3 2098.5,1541.7 2136.5,1544.7 2174.5,1546.7 2212.5,1549.0 2251.5,1551.3 2289.5,1554.3 2327.5,1557.3 2365.5,1558.3 2404.5,1557.7 2442.5,1558.7 2480.5,1559.7 2518.5,1561.3 2557.5,1562.7 2595.5,1565.0 2633.5,1569.0 2671.5,1573.7" fill="none" stroke="#ffeb3b" stroke-width="1.7" stroke-linejoin="round"/>
<polyline points="-5.8,1603.7 32.5,1614.7 71.5,1612.3 109.5,1614.7 147.5,1629.7 185.5,1591.0 223.5,1579.0 262.5,1583.7 300.5,1568.3 338.5,1573.7 376.5,1569.7 415.5,1566.3 453.5,1537.0 491.5,1544.3 529.5,1572.7 568.5,1569.7 606.5,1565.3 644.5,1567.7 682.5,1580.3 721.5,1577.7 759.5,1574.3 797.5,1581.3 835.5,1589.7 874.5,1588.3 912.5,1564.0 950.5,1573.0 988.5,1566.0 1027.5,1576.3 1065.5,1584.7 1103.5,1610.0 1141.5,1609.7 1180.5,1611.0 1218.5,1612.3 1256.5,1602.3 1294.5,1576.7 1333.5,1577.7 1371.5,1559.3 1409.5,1558.0 1447.5,1568.3 1486.5,1531.7 1524.5,1533.3 1562.5,1527.3 1600.5,1517.3 1639.5,1518.7 1677.5,1534.7 1715.5,1536.0 1753.5,1527.3 1792.5,1518.3 1830.5,1555.0 1868.5,1565.3 1906.5,1562.7 1945.5,1551.3 1983.5,1563.7 2021.5,1536.0 2059.5,1553.0 2098.5,1542.7 2136.5,1558.0 2174.5,1553.7 2212.5,1566.3 2251.5,1561.7 2289.5,1572.7 2327.5,1567.0 2365.5,1568.0 2404.5,1556.0 2442.5,1574.3 2480.5,1566.0 2518.5,1589.0 2557.5,1559.7 2595.5,1577.0 2633.5,1599.7 2671.5,1620.3" fill="none" stroke="#7e57c2" stroke-width="1.7" stroke-linejoin="round"/>
<g fill="none" stroke="#aa60ff" stroke-width="3.1" stroke-linecap="round" stroke-linejoin="round">
<line x1="1791.3" y1="1513.3" x2="2748.3" y2="1566.9"/>
<polyline points="2733.6,1551.1 2748.3,1566.9 2731.9,1581.7"/>
</g>
</g>
<text x="2294.6" y="1516.8" font-size="28.9" fill="#000" stroke="#000" stroke-width="0.3" textLength="39.8" lengthAdjust="spacingAndGlyphs">RSI</text>
<text x="2362.6" y="1516.8" font-size="28.9" fill="#000" stroke="#000" stroke-width="0.3" textLength="118.6" lengthAdjust="spacingAndGlyphs">Negative</text>
<text x="2490.2" y="1516.8" font-size="28.9" fill="#000" stroke="#000" stroke-width="0.3" textLength="161.6" lengthAdjust="spacingAndGlyphs">Divergences</text>
<text x="2659.3" y="1516.8" font-size="28.9" fill="#000" stroke="#000" stroke-width="0.3" textLength="25.0" lengthAdjust="spacingAndGlyphs">A'</text>
<text x="2690.0" y="1516.8" font-size="28.9" fill="#000" stroke="#000" stroke-width="0.3" textLength="69.6" lengthAdjust="spacingAndGlyphs">Class</text>
<text x="2344.2" y="1516.8" font-size="28.9" fill="#000" stroke="#000" stroke-width="0.3">-</text>
<text x="26.4" y="1522.9" font-size="17.3" fill="#131722" stroke="#131722" stroke-width="0.3" textLength="24.4" lengthAdjust="spacingAndGlyphs">RSI</text>
<text x="57.0" y="1522.9" font-size="17.3" fill="#131722" stroke="#131722" stroke-width="0.3" textLength="29.9" lengthAdjust="spacingAndGlyphs">(14,</text>
<text x="93.0" y="1522.9" font-size="17.3" fill="#131722" stroke="#131722" stroke-width="0.3" textLength="49.0" lengthAdjust="spacingAndGlyphs">close)</text>
<text x="152.0" y="1522.9" font-size="17.3" fill="#7e57c2" stroke="#7e57c2" stroke-width="0.3" textLength="45.0" lengthAdjust="spacingAndGlyphs">47.03</text>
<text x="207.1" y="1522.9" font-size="17.3" fill="#fdd835" stroke="#fdd835" stroke-width="0.3" textLength="45.9" lengthAdjust="spacingAndGlyphs">61.17</text>
<text x="262.9" y="1522.9" font-size="15.5" fill="#131722" stroke="#131722" stroke-width="0.3" textLength="11.9" lengthAdjust="spacingAndGlyphs">∅</text>
<text x="285.6" y="1522.9" font-size="15.5" fill="#131722" stroke="#131722" stroke-width="0.3" textLength="11.9" lengthAdjust="spacingAndGlyphs">∅</text>
<text x="308.4" y="1522.9" font-size="15.5" fill="#131722" stroke="#131722" stroke-width="0.3" textLength="11.9" lengthAdjust="spacingAndGlyphs">∅</text>
<text x="331.1" y="1522.9" font-size="15.5" fill="#131722" stroke="#131722" stroke-width="0.3" textLength="11.9" lengthAdjust="spacingAndGlyphs">∅</text>
<text x="353.9" y="1522.9" font-size="15.5" fill="#131722" stroke="#131722" stroke-width="0.3" textLength="11.9" lengthAdjust="spacingAndGlyphs">∅</text>
<text x="376.6" y="1522.9" font-size="15.5" fill="#131722" stroke="#131722" stroke-width="0.3" textLength="11.9" lengthAdjust="spacingAndGlyphs">∅</text>
<text x="3191.9" y="1515.0" font-size="23" fill="#000" stroke="#000" stroke-width="0.3" textLength="58.2" lengthAdjust="spacingAndGlyphs">66.43</text>
<text x="3191.9" y="1548.3" font-size="23" fill="#000" stroke="#000" stroke-width="0.3" textLength="58.2" lengthAdjust="spacingAndGlyphs">63.72</text>
<text x="3191.9" y="1651.0" font-size="23" fill="#000" stroke="#000" stroke-width="0.3" textLength="58.2" lengthAdjust="spacingAndGlyphs">40.00</text>
<text x="3191.9" y="1717.0" font-size="23" fill="#000" stroke="#000" stroke-width="0.3" textLength="58.2" lengthAdjust="spacingAndGlyphs">20.00</text>
<path d="M3176 1558 H3259 Q3262 1558 3262 1561 V1589 Q3262 1592 3259 1592 H3176 Z" fill="#ffeb3b"/>
<text x="3191.9" y="1583.8" font-size="23" fill="#000" stroke="#000" stroke-width="0.8" textLength="58.2" lengthAdjust="spacingAndGlyphs">61.17</text>
<path d="M3176 1603 H3259 Q3262 1603 3262 1606 V1635 Q3262 1638 3259 1638 H3176 Z" fill="#7e57c2"/>
<text x="3191.9" y="1628.8" font-size="23" fill="#fff" stroke="#fff" stroke-width="0.8" textLength="58.2" lengthAdjust="spacingAndGlyphs">47.03</text>
<text x="26.3" y="1757.7" font-size="17.3" fill="#131722" stroke="#131722" stroke-width="0.3" textLength="45.5" lengthAdjust="spacingAndGlyphs">Stoch</text>
<text x="77.3" y="1757.7" font-size="17.3" fill="#131722" stroke="#131722" stroke-width="0.3" textLength="32.1" lengthAdjust="spacingAndGlyphs">(14,</text>
<text x="114.0" y="1757.7" font-size="17.3" fill="#131722" stroke="#131722" stroke-width="0.3" textLength="13.1" lengthAdjust="spacingAndGlyphs">5,</text>
<text x="134.0" y="1757.7" font-size="17.3" fill="#131722" stroke="#131722" stroke-width="0.3" textLength="17.8" lengthAdjust="spacingAndGlyphs">7)</text>
<text x="161.7" y="1757.7" font-size="17.3" fill="#2962ff" stroke="#2962ff" stroke-width="0.3" textLength="46.1" lengthAdjust="spacingAndGlyphs">59.60</text>
<text x="217.3" y="1757.7" font-size="17.3" fill="#ff6d00" stroke="#ff6d00" stroke-width="0.3" textLength="46.1" lengthAdjust="spacingAndGlyphs">78.44</text>
<text x="26.3" y="1808.7" font-size="17.3" fill="#131722" stroke="#131722" stroke-width="0.3" textLength="46.5" lengthAdjust="spacingAndGlyphs">MACD</text>
<text x="78.3" y="1808.7" font-size="17.3" fill="#131722" stroke="#131722" stroke-width="0.3" textLength="31.1" lengthAdjust="spacingAndGlyphs">(12,</text>
<text x="114.7" y="1808.7" font-size="17.3" fill="#131722" stroke="#131722" stroke-width="0.3" textLength="24.7" lengthAdjust="spacingAndGlyphs">26,</text>
<text x="145.0" y="1808.7" font-size="17.3" fill="#131722" stroke="#131722" stroke-width="0.3" textLength="48.8" lengthAdjust="spacingAndGlyphs">close)</text>
<text x="204.0" y="1808.7" font-size="17.3" fill="#ff5252" stroke="#ff5252" stroke-width="0.3" textLength="73.8" lengthAdjust="spacingAndGlyphs">−0.00139</text>
<text x="287.3" y="1808.7" font-size="17.3" fill="#2962ff" stroke="#2962ff" stroke-width="0.3" textLength="64.5" lengthAdjust="spacingAndGlyphs">0.00349</text>
<text x="361.3" y="1808.7" font-size="17.3" fill="#ff6d00" stroke="#ff6d00" stroke-width="0.3" textLength="64.8" lengthAdjust="spacingAndGlyphs">0.00488</text>
<line x1="16" y1="1493.5" x2="3304" y2="1493.5" stroke="#b4b7c1" stroke-width="1"/>
<line x1="16" y1="1728.5" x2="3304" y2="1728.5" stroke="#b4b7c1" stroke-width="1"/>
<line x1="16" y1="1779.5" x2="3304" y2="1779.5" stroke="#b4b7c1" stroke-width="1"/>
<line x1="16" y1="1830.5" x2="3304" y2="1830.5" stroke="#000" stroke-width="1"/>
<text x="127.3" y="1863.7" font-size="23" fill="#000" textLength="40.5" lengthAdjust="spacingAndGlyphs" font-weight="bold">Feb</text>
<text x="402.8" y="1863.7" font-size="23" fill="#000" stroke="#000" stroke-width="0.3" textLength="25.3" lengthAdjust="spacingAndGlyphs">12</text>
<text x="593.8" y="1863.7" font-size="23" fill="#000" stroke="#000" stroke-width="0.3" textLength="25.3" lengthAdjust="spacingAndGlyphs">19</text>
<text x="784.8" y="1863.7" font-size="23" fill="#000" stroke="#000" stroke-width="0.3" textLength="25.3" lengthAdjust="spacingAndGlyphs">26</text>
<text x="929.1" y="1863.7" font-size="23" fill="#000" textLength="42.8" lengthAdjust="spacingAndGlyphs" font-weight="bold">Mar</text>
<text x="1167.8" y="1863.7" font-size="23" fill="#000" stroke="#000" stroke-width="0.3" textLength="25.3" lengthAdjust="spacingAndGlyphs">11</text>
<text x="1358.8" y="1863.7" font-size="23" fill="#000" stroke="#000" stroke-width="0.3" textLength="25.3" lengthAdjust="spacingAndGlyphs">18</text>
<text x="1549.8" y="1863.7" font-size="23" fill="#000" stroke="#000" stroke-width="0.3" textLength="25.3" lengthAdjust="spacingAndGlyphs">25</text>
<text x="1733.0" y="1863.7" font-size="23" fill="#000" textLength="41.1" lengthAdjust="spacingAndGlyphs" font-weight="bold">Apr</text>
<text x="1938.9" y="1863.7" font-size="23" fill="#000" stroke="#000" stroke-width="0.3" textLength="13.3" lengthAdjust="spacingAndGlyphs">8</text>
<text x="2123.8" y="1863.7" font-size="23" fill="#000" stroke="#000" stroke-width="0.3" textLength="25.3" lengthAdjust="spacingAndGlyphs">15</text>
<text x="2314.8" y="1863.7" font-size="23" fill="#000" stroke="#000" stroke-width="0.3" textLength="25.3" lengthAdjust="spacingAndGlyphs">22</text>
<text x="2573.1" y="1863.7" font-size="23" fill="#000" textLength="44.8" lengthAdjust="spacingAndGlyphs" font-weight="bold">May</text>
<text x="2741.9" y="1863.7" font-size="23" fill="#000" stroke="#000" stroke-width="0.3" textLength="13.3" lengthAdjust="spacingAndGlyphs">7</text>
<text x="2888.8" y="1863.7" font-size="23" fill="#000" stroke="#000" stroke-width="0.3" textLength="25.3" lengthAdjust="spacingAndGlyphs">13</text>
<text x="3079.8" y="1863.7" font-size="23" fill="#000" stroke="#000" stroke-width="0.3" textLength="25.3" lengthAdjust="spacingAndGlyphs">20</text>
<g fill="#131722">
<path d="M15 1902.3 H26.7 V1916.7 H20.4 V1908 H15 Z"/>
<circle cx="31.7" cy="1905.5" r="3.3"/>
<path d="M37.9 1902.3 H44.3 L38.7 1916.7 H32.1 Z"/>
</g>
<text x="49.6" y="1917.9" font-size="19.2" fill="#131722" textLength="105.7" lengthAdjust="spacingAndGlyphs">TradingView</text>
</svg>
</body></html>
